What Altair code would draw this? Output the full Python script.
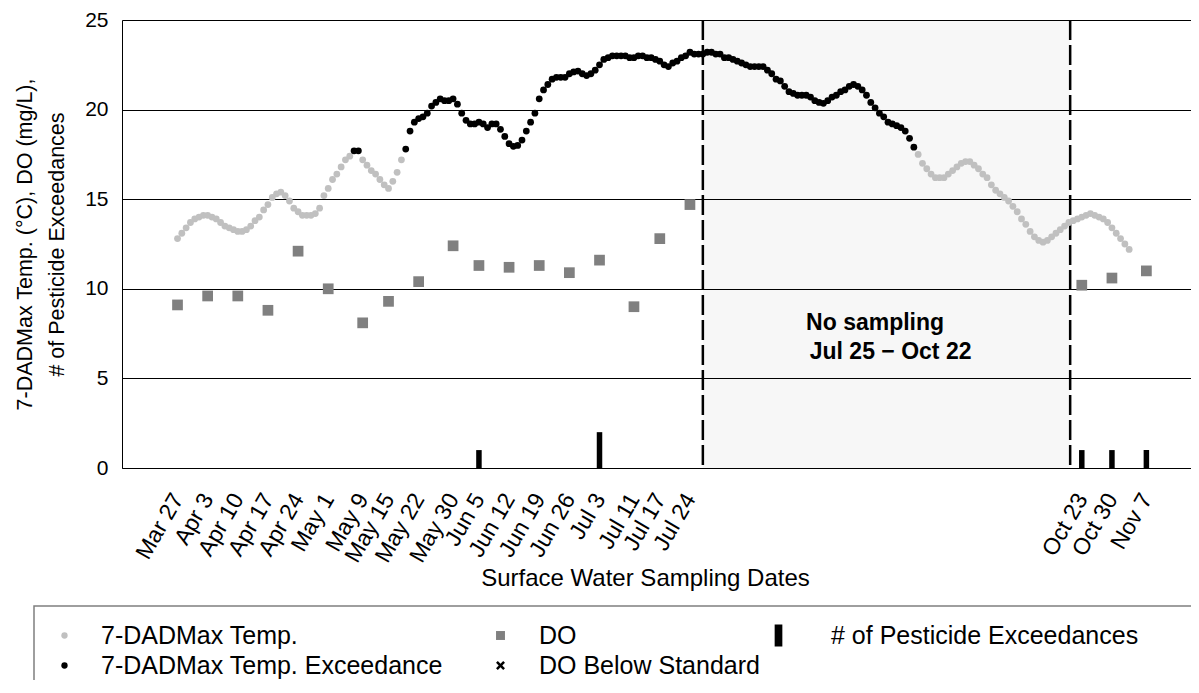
import altair as alt
import pandas as pd

# ---------------- data ----------------
# daily 7-DADMax temperature, day 0 = Mar 27
TEMP = [
    12.8, 13.1, 13.4, 13.7, 13.9, 14.0, 14.1, 14.1, 14.0, 13.9,
    13.7, 13.5, 13.4, 13.3, 13.2, 13.2, 13.3, 13.5, 13.8, 14.0,
    14.4, 14.7, 15.1, 15.3, 15.4, 15.2, 14.9, 14.5, 14.3, 14.1,
    14.1, 14.1, 14.2, 14.5, 15.2, 15.6, 16.1, 16.4, 16.8, 17.2,
    17.4, 17.7, 17.7, 17.2, 16.9, 16.6, 16.4, 16.1, 15.8, 15.6,
    16.0, 16.5, 17.2, 17.8, 18.8, 19.3, 19.5, 19.6, 19.8, 20.2,
    20.4, 20.6, 20.5, 20.5, 20.6, 20.3, 19.8, 19.4, 19.2, 19.2,
    19.3, 19.2, 19.0, 19.2, 19.2, 18.9, 18.5, 18.1, 17.95, 18.0,
    18.3, 18.8, 19.3, 19.8, 20.6, 21.1, 21.4, 21.7, 21.8, 21.8,
    21.8, 22.0, 22.1, 22.15, 22.0, 21.9, 22.0, 22.2, 22.5, 22.8,
    22.9, 23.0, 23.0, 23.0, 23.0, 22.9, 22.9, 23.0, 23.0, 22.9,
    22.9, 22.8, 22.7, 22.5, 22.4, 22.6, 22.7, 22.9, 23.0, 23.2,
    23.1, 23.1, 23.1, 23.2, 23.2, 23.1, 23.1, 22.9, 22.9, 22.8,
    22.7, 22.6, 22.5, 22.4, 22.4, 22.4, 22.4, 22.2, 22.0, 21.7,
    21.6, 21.3, 21.0, 20.9, 20.8, 20.8, 20.8, 20.7, 20.5, 20.4,
    20.35, 20.5, 20.7, 20.8, 21.0, 21.1, 21.3, 21.4, 21.3, 21.1,
    20.8, 20.4, 20.1, 19.8, 19.6, 19.3, 19.2, 19.1, 19.0, 18.8,
    18.4, 17.9, 17.5, 17.0, 16.7, 16.4, 16.2, 16.2, 16.2, 16.4,
    16.6, 16.8, 17.0, 17.1, 17.1, 16.9, 16.7, 16.4, 16.2, 15.8,
    15.5, 15.3, 15.1, 14.9, 14.6, 14.3, 13.9, 13.6, 13.2, 12.9,
    12.7, 12.6, 12.7, 12.9, 13.1, 13.3, 13.5, 13.7, 13.8, 13.9,
    14.0, 14.1, 14.2, 14.1, 14.0, 13.9, 13.7, 13.4, 13.1, 12.8,
    12.5, 12.2,
]
TEMP_LIMIT = 17.5

SAMPLE_LABELS = ["Mar 27", "Apr 3", "Apr 10", "Apr 17", "Apr 24", "May 1", "May 9",
                 "May 15", "May 22", "May 30", "Jun 5", "Jun 12", "Jun 19", "Jun 26",
                 "Jul 3", "Jul 11", "Jul 17", "Jul 24", "Oct 23", "Oct 30", "Nov 7"]
SAMPLE_DAYS = [0, 7, 14, 21, 28, 35, 43, 49, 56, 64, 70, 77, 84, 91, 98, 106, 112, 119,
               210, 217, 225]
DO_VALUES = [9.1, 9.6, 9.6, 8.8, 12.1, 10.0, 8.1, 9.3, 10.4, 12.4, 11.3, 11.2, 11.3,
             10.9, 11.6, 9.0, 12.8, 14.7, 10.2, 10.6, 11.0]

PEST_DAYS = [70, 98, 210, 217, 225]
PEST_COUNTS = [1, 2, 1, 1, 1]

GAP_START = [122.0]
GAP_END = [207.3]
GAP_TEXT = ["No sampling", "Jul 25 \u2212 Oct 22"]
GAP_TEXT_DAY = [162.0, 165.6]
GAP_TEXT_VALUE = [8.1, 6.45]

# ---------------- tables ----------------
temp_df = pd.DataFrame({"day": list(range(len(TEMP))), "value": TEMP})
temp_df["series"] = ["7-DADMax Temp. Exceedance" if v > TEMP_LIMIT else "7-DADMax Temp."
                     for v in TEMP]
do_df = pd.DataFrame({"day": SAMPLE_DAYS, "value": DO_VALUES, "series": "DO"})
pest_df = pd.DataFrame({"day": PEST_DAYS, "value": PEST_COUNTS,
                        "series": "# of Pesticide Exceedances"})
gap_df = pd.DataFrame({"start": GAP_START, "end": GAP_END})
edge_df = pd.DataFrame({"day": GAP_START + GAP_END})
note_df = pd.DataFrame({"day": GAP_TEXT_DAY, "value": GAP_TEXT_VALUE, "text": GAP_TEXT})

FONT = "Liberation Sans, Arial, sans-serif"

label_expr = ("[" + ",".join("'%s'" % s for s in SAMPLE_LABELS) + "][indexof(["
              + ",".join(str(d) for d in SAMPLE_DAYS) + "], datum.value)]")

x_scale = alt.Scale(domain=[-11.73, 234.2], nice=False, zero=False)
y_scale = alt.Scale(domain=[0, 25], nice=False)

x_axis = alt.Axis(values=SAMPLE_DAYS, labelExpr=label_expr, labelAngle=-60,
                  labelAlign="right", labelBaseline="middle", labelFontSize=23,
                  labelFont=FONT, labelColor="black", labelPadding=27, ticks=False,
                  grid=False, domainColor="black", title="Surface Water Sampling Dates",
                  titleFont=FONT, titleFontSize=24, titleFontWeight="normal",
                  titleColor="black", titleX=523, titleY=110, titleBaseline="middle",
                  labelOverlap=False, labelBound=False, labelFlush=False)
y_axis = alt.Axis(values=[0, 5, 10, 15, 20, 25], labelFontSize=21, labelFont=FONT,
                  labelColor="black", labelPadding=14, ticks=False, grid=True,
                  gridColor="black", gridWidth=1, domainColor="black",
                  title=["7-DADMax Temp. (\u00b0C), DO (mg/L),", "# of Pesticide Exceedances"],
                  titleFont=FONT, titleFontSize=21.5, titleFontWeight="normal",
                  titleColor="black", titlePadding=16, titleLineHeight=32)

X_PATH = ("M-1,-0.6L-0.6,-1L0,-0.4L0.6,-1L1,-0.6L0.4,0L1,0.6L0.6,1L0,0.4L-0.6,1"
          "L-1,0.6L-0.4,0Z")
BAR_PATH = "M-0.35,-1H0.35V1H-0.35Z"

leg_common = dict(orient="none", title=None, labelFont=FONT, labelFontSize=25,
                  labelColor="black", rowPadding=4, padding=0, labelLimit=600,
                  legendY=603)

shade = alt.Chart(gap_df).mark_rect(color="black", opacity=0.03).encode(
    x=alt.X("start:Q", scale=x_scale, axis=x_axis), x2="end:Q")

edges = alt.Chart(edge_df).mark_rule(color="black", strokeWidth=2.5,
                                     strokeDash=[20, 5]).encode(
    x=alt.X("day:Q", scale=x_scale))

bars = alt.Chart(pest_df).mark_bar(size=5.5).encode(
    x=alt.X("day:Q", scale=x_scale),
    y=alt.Y("value:Q", scale=y_scale, axis=y_axis),
    color=alt.Color("series:N",
                    scale=alt.Scale(domain=["# of Pesticide Exceedances"], range=["black"]),
                    legend=alt.Legend(symbolType=BAR_PATH, symbolSize=484,
                                      symbolStrokeWidth=0, labelOffset=40,
                                      legendX=644, **leg_common)))

do_legend = dict(symbolSize=80, labelOffset=26, legendX=366, **leg_common)
do_pts = alt.Chart(do_df).mark_point(filled=True, size=115, opacity=1).encode(
    x=alt.X("day:Q", scale=x_scale),
    y=alt.Y("value:Q", scale=y_scale),
    color=alt.Color("series:N",
                    scale=alt.Scale(domain=["DO", "DO Below Standard"],
                                    range=["#808080", "black"]),
                    legend=alt.Legend(**do_legend)),
    shape=alt.Shape("series:N",
                    scale=alt.Scale(domain=["DO", "DO Below Standard"],
                                    range=["square", X_PATH]),
                    legend=alt.Legend(**do_legend)))

temp_pts = alt.Chart(temp_df).mark_circle(size=46, opacity=1).encode(
    x=alt.X("day:Q", scale=x_scale),
    y=alt.Y("value:Q", scale=y_scale),
    color=alt.Color("series:N",
                    scale=alt.Scale(domain=["7-DADMax Temp.", "7-DADMax Temp. Exceedance"],
                                    range=["#c0c0c0", "black"]),
                    legend=alt.Legend(symbolType="circle", symbolSize=40, labelOffset=24,
                                      legendX=-70, **leg_common)))

notes = alt.Chart(note_df).mark_text(font=FONT, fontSize=23, fontWeight="bold",
                                     color="black").encode(
    x=alt.X("day:Q", scale=x_scale), y=alt.Y("value:Q", scale=y_scale), text="text:N")

frame = alt.Chart(gap_df).mark_rect(fill=None, stroke="#7f7f7f", strokeWidth=1.5).encode(
    x=alt.value(-88), x2=alt.value(1090), y=alt.value(586), y2=alt.value(700))

chart = alt.layer(shade, edges, bars, do_pts, temp_pts, notes, frame).resolve_scale(
    color="independent", shape="independent"
).properties(
    width=1069, height=448,
    autosize=alt.AutoSizeParams(type="none"),
    padding={"left": 114, "top": 12, "right": 0, "bottom": 212},
).configure_view(stroke=None).configure(font=FONT)

chart.save("out.html", embed_options={"renderer": "svg", "actions": False})
